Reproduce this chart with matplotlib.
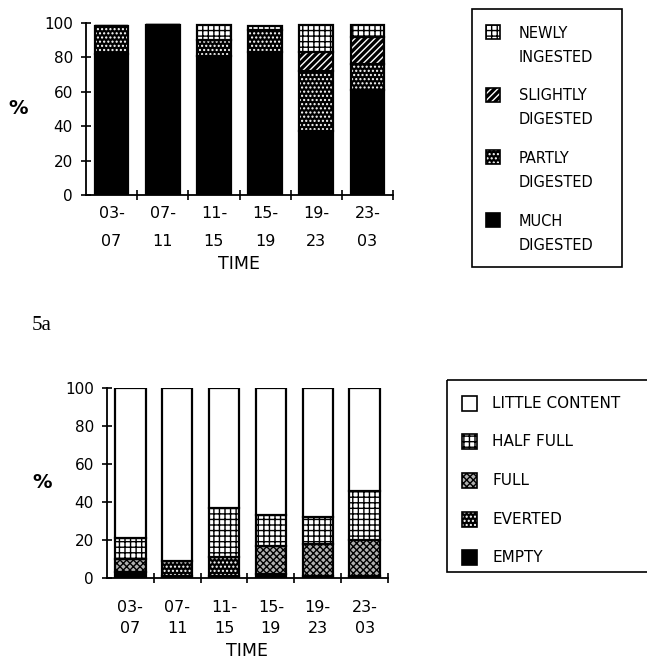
import matplotlib
matplotlib.use("Agg")
import matplotlib.pyplot as plt
from matplotlib.patches import Rectangle

plt.rcParams['font.family'] = ['DejaVu Sans']
plt.rcParams['hatch.linewidth'] = 1.0

times = ['03-\n07', '07-\n11', '11-\n15', '15-\n19', '19-\n23', '23-\n03']

# Fig 5a: digestion state (%), stacked bottom -> top
much_digested = [82, 99, 81, 83, 37, 61]
partly_digested = [16, 0, 9, 13, 35, 15]
slightly_digested = [0, 0, 0, 0, 11, 16]
newly_ingested = [0, 0, 9, 2, 16, 7]

# Fig 5b: stomach fullness (%), stacked bottom -> top
empty = [3, 1, 1, 2, 1, 1]
everted = [0, 8, 10, 0, 0, 0]
full = [7, 0, 0, 15, 17, 19]
half_full = [11, 0, 26, 16, 14, 26]
little_content = [79, 91, 63, 67, 68, 54]

top_series = [('MUCH\nDIGESTED', much_digested), ('PARTLY\nDIGESTED', partly_digested),
              ('SLIGHTLY\nDIGESTED', slightly_digested), ('NEWLY\nINGESTED', newly_ingested)]
bot_series = [('EMPTY', empty), ('EVERTED', everted), ('FULL', full),
              ('HALF FULL', half_full), ('LITTLE CONTENT', little_content)]

# face, hatch, hatch colour
style = {
    'MUCH\nDIGESTED': ('black', None, None),
    'PARTLY\nDIGESTED': ('black', '....', 'white'),
    'SLIGHTLY\nDIGESTED': ('black', '/////', 'white'),
    'NEWLY\nINGESTED': ('white', '+++', 'black'),
    'EMPTY': ('black', None, None),
    'EVERTED': ('black', '....', 'white'),
    'FULL': ('#b0b0b0', 'xxxxx', 'black'),
    'HALF FULL': ('white', '+++', 'black'),
    'LITTLE CONTENT': ('white', None, None),
}

W, H = 647, 665
fig = plt.figure(figsize=(W / 100, H / 100), dpi=100)


def px_axes(l, r, t, b):
    return fig.add_axes([l / W, (H - b) / H, (r - l) / W, (b - t) / H])


def draw_stack(ax, series, width):
    x = list(range(len(times)))
    bottoms = [0] * len(times)
    for name, vals in series:
        face, hatch, hc = style[name]
        ax.bar(x, vals, width, bottom=bottoms, color=face, edgecolor='black', linewidth=0)
        if hatch:
            ax.bar(x, vals, width, bottom=bottoms, fill=False, hatch=hatch,
                   edgecolor=hc, linewidth=0)
        ax.bar(x, vals, width, bottom=bottoms, fill=False, edgecolor='black', linewidth=1.6)
        bottoms = [b + v for b, v in zip(bottoms, vals)]


def style_axes(ax, label_pad, ylab_x, spacing):
    ax.set_xlim(-0.5, 5.5)
    ax.set_ylim(0, 100)
    for s in ['top', 'right']:
        ax.spines[s].set_visible(False)
    for s in ['left', 'bottom']:
        ax.spines[s].set_linewidth(1.3)
    ax.set_yticks([0, 20, 40, 60, 80, 100])
    ax.tick_params(axis='y', direction='inout', length=7, width=1.2, labelsize=11, pad=6)
    ax.set_xticks(range(len(times)))
    ax.set_xticklabels(times)
    ax.set_xticks([0.5, 1.5, 2.5, 3.5, 4.5, 5.5], minor=True)
    ax.tick_params(axis='x', which='major', length=0, labelsize=11.5, pad=label_pad)
    ax.tick_params(axis='x', which='minor', direction='inout', length=7, width=1.2)
    for lab in ax.get_xticklabels():
        lab.set_linespacing(spacing)
    ax.set_xlabel('TIME', fontsize=12.5, labelpad=4)
    ax.set_ylabel('%', fontsize=14, fontweight='bold', rotation=0, va='center')
    ax.yaxis.set_label_coords(ylab_x, 0.5)


ax1 = px_axes(86, 393, 23, 195)
draw_stack(ax1, top_series, 0.66)
style_axes(ax1, 8, -0.22, 2.1)

ax2 = px_axes(107, 388, 388, 578)
draw_stack(ax2, bot_series, 0.65)
style_axes(ax2, 16, -0.23, 1.5)

# overlay in pixel coordinates for legends and panel label
ov = fig.add_axes([0, 0, 1, 1])
ov.set_xlim(0, W)
ov.set_ylim(H, 0)
ov.axis('off')


def legend_patch(x, y, s, name):
    face, hatch, hc = style[name]
    ov.add_patch(Rectangle((x, y - s / 2), s, s, facecolor=face, edgecolor='none'))
    if hatch:
        ov.add_patch(Rectangle((x, y - s / 2), s, s, fill=False, hatch=hatch,
                               edgecolor=hc, linewidth=0))
    ov.add_patch(Rectangle((x, y - s / 2), s, s, fill=False, edgecolor='black', linewidth=1.2))


# top legend
ov.add_patch(Rectangle((472, 9), 150, 258, fill=False, edgecolor='black', linewidth=1.2))
for i, (name, _) in enumerate(reversed(top_series)):
    y0 = 32 + i * 62.5
    legend_patch(486, y0, 14, name)
    ov.text(519, y0 - 6, name, fontsize=10.5, va='top', ha='left', linespacing=1.75)

# bottom legend
ov.add_patch(Rectangle((447, 380), 220, 192, fill=False, edgecolor='black', linewidth=1.2,
                       clip_on=True))
for i, (name, _) in enumerate(reversed(bot_series)):
    y0 = 403 + i * 38.7
    legend_patch(462, y0, 15, name)
    ov.text(492, y0, name, fontsize=11, va='center', ha='left')

ov.text(32, 326, '5a', fontsize=15, family='Liberation Serif', va='center', ha='left')

fig.savefig('out.png', dpi=100)
